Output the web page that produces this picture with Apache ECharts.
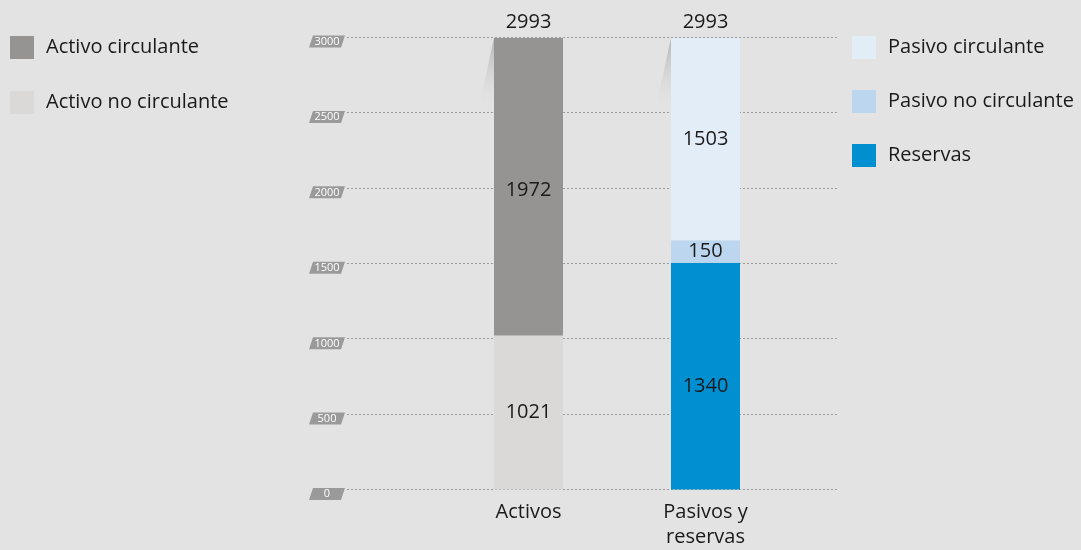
<!DOCTYPE html>
<html>
<head>
<meta charset="utf-8">
<script src="https://cdn.jsdelivr.net/npm/echarts@6/dist/echarts.min.js"></script>
<style>
html,body{margin:0;padding:0;background:#e3e3e3;}
#chart{width:1081px;height:550px;}
</style>
</head>
<body>
<div id="chart"></div>
<script>
// ---- data ----
var categories = ['Activos', 'Pasivos y\nreservas'];
var yTicks = [0, 500, 1000, 1500, 2000, 2500, 3000];
var totals = [2993, 2993];
// bar heights as drawn
var activoNoCirculante = [1021, '-'];
var activoCirculante = [1972, '-'];
var reservas = ['-', 1503];
var pasivoNoCirculante = ['-', 150];
var pasivoCirculante = ['-', 1340];
// printed labels
var labelsActivoNoCirc = ['1021', ''];
var labelsActivoCirc = ['1972', ''];
var labelsReservas = ['', '1340'];
var labelsPasivoNoCirc = ['', '150'];
var labelsPasivoCirc = ['', '1503'];

var FONT = '"Open Sans", "Noto Sans", sans-serif';
var TXT = '#1a1a1a';

var chart = echarts.init(document.getElementById('chart'), null, {renderer: 'canvas'});

function barSeries(name, data, labels, color, extraLabel) {
  var lbl = {
    show: true, position: 'inside', color: TXT, fontFamily: FONT, fontSize: 20,
    formatter: function (p) { return labels[p.dataIndex]; }
  };
  if (extraLabel) Object.assign(lbl, extraLabel);
  return {
    name: name, type: 'bar', xAxisIndex: 1, yAxisIndex: 1, stack: 'total',
    barWidth: 69, data: data, itemStyle: {color: color}, label: lbl,
    emphasis: {disabled: true}, z: 3
  };
}

var option = {
  backgroundColor: '#e3e3e3',
  animation: false,
  legend: [
    {
      orient: 'vertical', left: 10, top: 36, padding: 0, itemWidth: 24, itemHeight: 23, itemGap: 32,
      icon: 'rect', selectedMode: false,
      data: ['Activo circulante', 'Activo no circulante'],
      textStyle: {fontFamily: FONT, fontSize: 20, color: TXT, padding: [0, 0, 0, 7]}
    },
    {
      orient: 'vertical', left: 852, top: 36, padding: 0, itemWidth: 24, itemHeight: 23, itemGap: 31,
      icon: 'rect', selectedMode: false,
      data: ['Pasivo circulante', 'Pasivo no circulante', 'Reservas'],
      textStyle: {fontFamily: FONT, fontSize: 20, color: TXT, padding: [0, 0, 0, 7]}
    }
  ],
  grid: [
    {left: 347, right: 243, top: 37, bottom: 60.5},
    {left: 440, right: 287, top: 37, bottom: 60.5}
  ],
  xAxis: [
    {gridIndex: 0, type: 'value', min: 0, max: 1, show: false},
    {
      gridIndex: 1, type: 'category', data: categories,
      axisLine: {show: false}, axisTick: {show: false},
      axisLabel: {fontFamily: FONT, fontSize: 20, color: TXT, margin: 10, lineHeight: 25}
    }
  ],
  yAxis: [
    {
      gridIndex: 0, type: 'value', min: 0, max: 3000, interval: 500,
      axisLine: {show: false}, axisTick: {show: false}, axisLabel: {show: false},
      splitLine: {show: true, lineStyle: {color: '#9c9c9c', type: [2, 2], width: 1}}
    },
    {gridIndex: 1, type: 'value', min: 0, max: 3000, interval: 500, show: false}
  ],
  series: [
    // slanted tick labels
    {
      type: 'custom', xAxisIndex: 0, yAxisIndex: 0, clip: false, silent: true,
      data: yTicks.map(function (v) { return [0, v]; }),
      renderItem: function (params, api) {
        var p = api.coord([0, api.value(1)]);
        var x = p[0], y = p[1];
        return {
          type: 'group',
          children: [
            {
              type: 'polygon',
              shape: {points: [[x - 38, y + 10.5], [x - 34, y - 1.5], [x - 2, y - 1.5], [x - 6, y + 10.5]]},
              style: {fill: '#9a9a9a'}
            },
            {
              type: 'text',
              style: {
                text: String(api.value(1)), x: x - 20, y: y + 4.8,
                fill: '#ffffff', font: '11px ' + FONT, align: 'center', verticalAlign: 'middle'
              }
            }
          ]
        };
      }
    },
    // shading wedge to the left of each bar top
    {
      type: 'custom', xAxisIndex: 1, yAxisIndex: 1, clip: false, silent: true, z: 1,
      data: totals.map(function (v, i) { return [i, v]; }),
      renderItem: function (params, api) {
        var p = api.coord([api.value(0), api.value(1)]);
        var left = p[0] - 34.5, top = p[1];
        return {
          type: 'polygon',
          shape: {points: [[left, top], [left - 16, top + 73], [left, top + 73]]},
          style: {
            fill: new echarts.graphic.LinearGradient(0, 0, 0, 1, [
              {offset: 0, color: 'rgba(175,175,175,0.95)'},
              {offset: 1, color: 'rgba(227,227,227,0)'}
            ])
          }
        };
      }
    },
    barSeries('Activo no circulante', activoNoCirculante, labelsActivoNoCirc, '#dad9d7'),
    barSeries('Activo circulante', activoCirculante, labelsActivoCirc, '#959492', {offset: [0, 4]}),
    barSeries('Reservas', reservas, labelsReservas, '#0090d2', {offset: [0, 10]}),
    barSeries('Pasivo no circulante', pasivoNoCirculante, labelsPasivoNoCirc, '#bdd6f0'),
    barSeries('Pasivo circulante', pasivoCirculante, labelsPasivoCirc, '#e3edf8'),
    // totals above bars
    {
      type: 'scatter', xAxisIndex: 1, yAxisIndex: 1, symbolSize: 0, silent: true,
      itemStyle: {opacity: 1},
      data: totals,
      label: {show: true, position: 'top', distance: 6, color: TXT, opacity: 1, fontFamily: FONT, fontSize: 20,
        formatter: function (p) { return String(totals[p.dataIndex]); }}
    }
  ]
};
chart.setOption(option);
</script>
</body>
</html>
